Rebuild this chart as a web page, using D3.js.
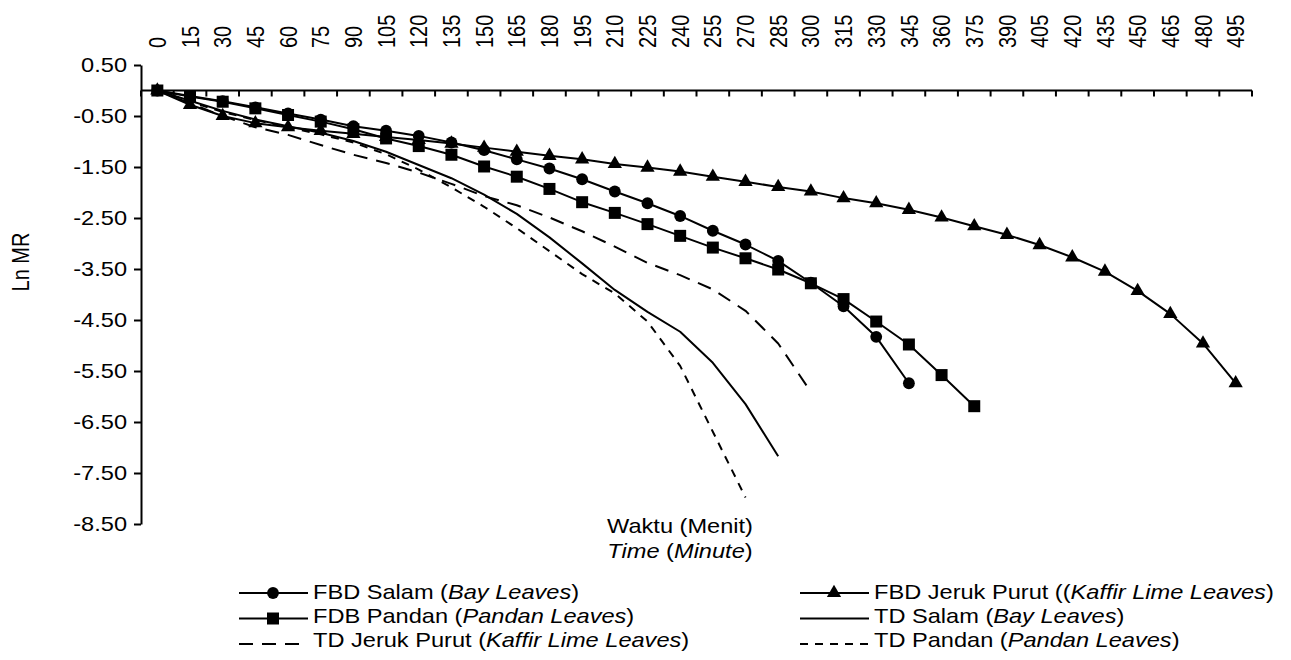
<!DOCTYPE html>
<html>
<head>
<meta charset="utf-8">
<script src="https://cdn.jsdelivr.net/npm/d3@7"></script>
<style>
  html, body { margin: 0; padding: 0; background: #fff; }
  svg text { font-family: "Liberation Sans", Arial, sans-serif; fill: #000; }
</style>
</head>
<body>
<svg id="chart" width="1291" height="660"></svg>
<script>
// categories (minutes)
const minutes = [0, 15, 30, 45, 60, 75, 90, 105, 120, 135, 150, 165, 180, 195, 210, 225, 240,
  255, 270, 285, 300, 315, 330, 345, 360, 375, 390, 405, 420, 435, 450, 465, 480, 495];

const yTicks = [0.5, -0.5, -1.5, -2.5, -3.5, -4.5, -5.5, -6.5, -7.5, -8.5];
const yTickLabels = ["0.50", "-0.50", "-1.50", "-2.50", "-3.50", "-4.50", "-5.50", "-6.50", "-7.50", "-8.50"];

// Ln MR values, one per 15 minutes starting at 0
const fbdSalam = [0, -0.11, -0.21, -0.33, -0.45, -0.57, -0.70, -0.79, -0.89, -1.02, -1.17, -1.35,
  -1.53, -1.74, -1.98, -2.21, -2.46, -2.75, -3.02, -3.34, -3.77, -4.23, -4.83, -5.74];
const fbdJerukPurut = [0, -0.28, -0.50, -0.64, -0.72, -0.79, -0.85, -0.91, -0.97, -1.04, -1.12, -1.20,
  -1.28, -1.35, -1.44, -1.51, -1.59, -1.69, -1.79, -1.89, -1.98, -2.11, -2.21, -2.34, -2.49, -2.66,
  -2.83, -3.03, -3.27, -3.55, -3.93, -4.38, -4.96, -5.74];
const fdbPandan = [0, -0.12, -0.22, -0.35, -0.48, -0.61, -0.76, -0.94, -1.09, -1.26, -1.49, -1.69,
  -1.93, -2.19, -2.40, -2.62, -2.85, -3.08, -3.29, -3.51, -3.78, -4.09, -4.53, -4.98, -5.58, -6.19];
const tdSalam = [0, -0.20, -0.40, -0.57, -0.70, -0.83, -0.99, -1.20, -1.46, -1.72, -2.04, -2.42,
  -2.88, -3.39, -3.91, -4.34, -4.73, -5.34, -6.15, -7.17];
const tdJerukPurut = [0, -0.25, -0.50, -0.72, -0.87, -1.07, -1.26, -1.42, -1.61, -1.83, -2.07, -2.25,
  -2.49, -2.76, -3.06, -3.38, -3.62, -3.90, -4.32, -4.96, -5.91];
const tdPandan = [0, -0.22, -0.42, -0.58, -0.72, -0.86, -1.02, -1.25, -1.55, -1.90, -2.28, -2.70,
  -3.15, -3.60, -3.98, -4.53, -5.40, -6.69, -7.98];

// legend order: row by row, left then right
const series = [
  { label: [["FBD Salam (", 0], ["Bay Leaves", 1], [")", 0]], values: fbdSalam, marker: d3.symbolCircle, size: 110, dash: null },
  { label: [["FBD Jeruk Purut ((", 0], ["Kaffir Lime Leaves", 1], [")", 0]], values: fbdJerukPurut, marker: d3.symbolTriangle, size: 88, dash: null },
  { label: [["FDB Pandan (", 0], ["Pandan Leaves", 1], [")", 0]], values: fdbPandan, marker: d3.symbolSquare, size: 144, dash: null },
  { label: [["TD Salam (", 0], ["Bay Leaves", 1], [")", 0]], values: tdSalam, marker: null, dash: null },
  { label: [["TD Jeruk Purut (", 0], ["Kaffir Lime Leaves", 1], [")", 0]], values: tdJerukPurut, marker: null, dash: "14,9" },
  { label: [["TD Pandan (", 0], ["Pandan Leaves", 1], [")", 0]], values: tdPandan, marker: null, dash: "8,7" }
];

const SX = 1.18; // glyphs in the original are a bit wide
const svg = d3.select("#chart");

const x = d3.scaleBand().domain(minutes).range([141, 1252]);
const y = d3.scaleLinear().domain([-8.5, 0.5]).range([524, 65]);
const cx = m => x(m) + x.bandwidth() / 2;

function addText(parent, px, py, parts, opts) {
  opts = opts || {};
  let t = parent.append("text")
    .attr("transform", `translate(${px},${py}) scale(${SX},1)` + (opts.rotate ? ` rotate(${opts.rotate})` : ""))
    .attr("text-anchor", opts.anchor || "start")
    .style("font-size", (opts.size || 20) + "px");
  if (opts.baseline) t.attr("dominant-baseline", opts.baseline);
  parts.forEach(p => {
    t.append("tspan").text(p[0]).style("font-style", p[1] ? "italic" : "normal");
  });
  return t;
}

// y axis
let yAxis = svg.append("g")
  .attr("transform", `translate(${x.range()[0]},0)`)
  .call(d3.axisLeft(y).tickValues(yTicks).tickSize(7).tickSizeOuter(0).tickFormat(""));
yAxis.selectAll("path, line").attr("stroke", "#000").attr("stroke-width", 2);

yTicks.forEach((v, i) => {
  addText(svg, 127, y(v), [[yTickLabels[i], 0]], { anchor: "end", baseline: "central" });
});

// category axis along Ln MR = 0
let xAxis = svg.append("g");
xAxis.append("line")
  .attr("x1", x.range()[0]).attr("x2", x.range()[1])
  .attr("y1", y(0)).attr("y2", y(0))
  .attr("stroke", "#000").attr("stroke-width", 2);

let bounds = minutes.map(m => x(m)).concat([x.range()[1]]);
xAxis.selectAll("line.tick")
  .data(bounds)
  .enter()
  .append("line")
  .attr("class", "tick")
  .attr("x1", d => d).attr("x2", d => d)
  .attr("y1", y(0)).attr("y2", y(0) + 6)
  .attr("stroke", "#000").attr("stroke-width", 2);

minutes.forEach(m => {
  addText(svg, cx(m), 48, [[String(m), 0]], { rotate: -90, baseline: "central" });
});

// lines
let line = d3.line()
  .x((v, i) => cx(minutes[i]))
  .y(v => y(v));

let gLines = svg.append("g");
series.forEach(s => {
  gLines.append("path")
    .datum(s.values)
    .attr("d", line)
    .attr("fill", "none")
    .attr("stroke", "#000")
    .attr("stroke-width", 2)
    .attr("stroke-linejoin", "round")
    .attr("stroke-dasharray", s.dash);
});

// markers
series.filter(s => s.marker).forEach(s => {
  gLines.selectAll(null)
    .data(s.values)
    .enter()
    .append("path")
    .attr("d", d3.symbol().type(s.marker).size(s.size))
    .attr("transform", (v, i) => `translate(${cx(minutes[i])},${y(v)})`)
    .attr("fill", "#000");
});

// axis titles
addText(svg, 20, 262, [["Ln MR", 0]], { rotate: -90, anchor: "middle", baseline: "central" });
addText(svg, 680, 533, [["Waktu (Menit)", 0]], { anchor: "middle" });
addText(svg, 680, 558, [["Time", 1], [" (", 0], ["Minute", 1], [")", 0]], { anchor: "middle" });

// legend
const colX = [239, 800];
let legend = svg.append("g");
series.forEach((s, i) => {
  let col = i % 2, row = Math.floor(i / 2);
  let lx = colX[col], ly = 593 + row * 25.5;
  legend.append("line")
    .attr("x1", lx).attr("x2", lx + 69)
    .attr("y1", ly).attr("y2", ly)
    .attr("stroke", "#000").attr("stroke-width", 2)
    .attr("stroke-dasharray", s.dash);
  if (s.marker) {
    legend.append("path")
      .attr("d", d3.symbol().type(s.marker).size(s.size))
      .attr("transform", `translate(${lx + 34},${ly})`)
      .attr("fill", "#000");
  }
  addText(legend, lx + 74, 599 + row * 24, s.label);
});
</script>
</body>
</html>
